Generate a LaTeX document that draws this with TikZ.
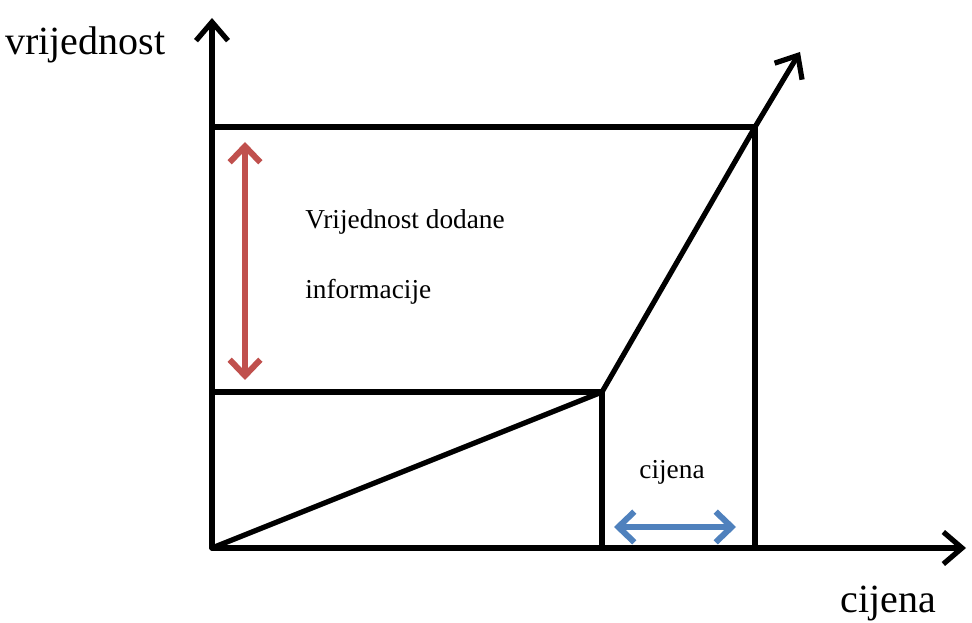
\documentclass[tikz,border=0pt]{standalone}
\usepackage{fontspec}
\setmainfont{Liberation Serif}
\usetikzlibrary{arrows.meta}
\definecolor{myred}{HTML}{C0504D}
\definecolor{myblue}{HTML}{4F81BD}
\tikzset{
  axisline/.style={line width=3.9pt, line cap=round, line join=round},
  bigtip/.style={-{Straight Barb[length=14pt,width=24pt,line width=3.9pt]}},
  colarrow/.style={line width=4.5pt, {Straight Barb[length=12pt,width=23pt,line width=4.5pt]}-{Straight Barb[length=12pt,width=23pt,line width=4.5pt]}},
  bigtext/.style={font=\fontsize{30}{36}\selectfont, inner sep=0pt},
  smalltext/.style={font=\fontsize{20.5}{24}\selectfont, inner sep=0pt}
}
\begin{document}
\begin{tikzpicture}[x=0.75pt,y=-0.75pt]
\useasboundingbox (0,0) rectangle (972,623);
% key points
\coordinate (O) at (212,548);
\coordinate (Ytip) at (212,18);
\coordinate (Xtip) at (966,548);
\coordinate (Ttop) at (212,127);
\coordinate (Mleft) at (212,392);
\coordinate (K) at (602,392);
\coordinate (Kb) at (602,548);
\coordinate (P) at (755,127);
\coordinate (Pb) at (755,548);
\coordinate (Ltip) at (800,52);
% axes
\draw[axisline,bigtip] (O) -- (Ytip);
\draw[axisline,bigtip] (O) -- (Xtip);
% rectangles
\draw[axisline] (Ttop) -- (P) -- (Pb);
\draw[axisline] (Mleft) -- (K) -- (Kb);
% curve
\draw[axisline] (O) -- (K) -- (P);
\draw[axisline,bigtip] (P) -- (Ltip);
% red arrow
\coordinate (R1) at (245,142);
\coordinate (R2) at (245,380);
\draw[colarrow,myred] (R1) -- (R2);
% blue arrow
\coordinate (B1) at (614,527);
\coordinate (B2) at (736,527);
\draw[colarrow,myblue] (B1) -- (B2);
% texts
\node[bigtext,anchor=west] (ylab) at (5,45) {vrijednost};
\node[bigtext] (xlab) at (888,604) {cijena};
\node[smalltext,anchor=west] (t1) at (305,222) {Vrijednost dodane};
\node[smalltext,anchor=west] (t2) at (305,292) {informacije};
\node[smalltext] (t3) at (672,472) {cijena};
\end{tikzpicture}
\end{document}
